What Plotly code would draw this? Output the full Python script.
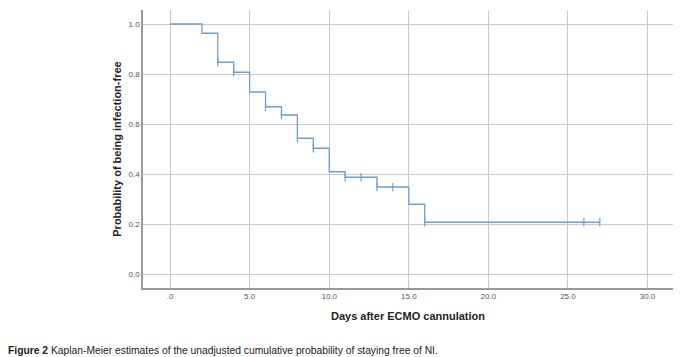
import plotly.graph_objects as go

# Kaplan-Meier step data
step_times = [0, 2, 3, 4, 5, 6, 7, 8, 9, 10, 11, 13, 15, 16, 27]
step_surv = [1.0, 0.963, 0.847, 0.807, 0.728, 0.669, 0.636, 0.543, 0.503, 0.409, 0.387, 0.348, 0.279, 0.207, 0.207]
censor_times = [3, 4, 6, 7, 8, 9, 11, 12, 13, 14, 16, 26, 27]

x_ticks = [0, 5, 10, 15, 20, 25, 30]
x_tick_labels = [".0", "5.0", "10.0", "15.0", "20.0", "25.0", "30.0"]
y_ticks = [0.0, 0.2, 0.4, 0.6, 0.8, 1.0]
y_tick_labels = ["0.0", "0.2", "0.4", "0.6", "0.8", "1.0"]


def surv_at(t):
    val = step_surv[0]
    for tt, s in zip(step_times, step_surv):
        if tt <= t:
            val = s
    return val


censor_surv = [surv_at(t) for t in censor_times]

LINE = "#6e9fd4"

fig = go.Figure()
fig.add_trace(go.Scatter(x=step_times, y=step_surv, mode="lines",
                         line=dict(shape="hv", color=LINE, width=1.3),
                         showlegend=False, hoverinfo="skip"))
fig.add_trace(go.Scatter(x=censor_times, y=censor_surv, mode="markers",
                         marker=dict(symbol="line-ns", size=6,
                                     line=dict(color=LINE, width=1.2)),
                         showlegend=False))

fig.update_layout(
    width=693, height=357,
    margin=dict(l=143, r=20, t=10, b=69),
    paper_bgcolor="white", plot_bgcolor="white",
    font=dict(family="Liberation Sans, Arial, sans-serif", color="#444"),
    xaxis=dict(range=[-1.7, 31.6], tickvals=x_ticks, ticktext=x_tick_labels,
               showgrid=True, gridcolor="#c9c9c9", gridwidth=1.2,
               showline=True, linecolor="#999", linewidth=1.6,
               zeroline=False, ticks="", tickfont=dict(size=8, color="#555"),
               title=dict(text="<b>Days after ECMO cannulation</b>",
                          font=dict(size=11, color="#222"), standoff=12)),
    yaxis=dict(range=[-0.056, 1.056], tickvals=y_ticks, ticktext=y_tick_labels,
               showgrid=True, gridcolor="#c9c9c9", gridwidth=1.2,
               showline=True, linecolor="#999", linewidth=1.6,
               zeroline=False, ticks="", tickfont=dict(size=8, color="#555"),
               title=dict(text="<b>Probability of being infection-free</b>",
                          font=dict(size=11, color="#222"), standoff=5)),
    annotations=[dict(
        text="<b>Figure 2</b> Kaplan-Meier estimates of the unadjusted cumulative probability of staying free of NI.",
        xref="paper", yref="paper", x=-137 / 530, y=-62 / 278,
        xanchor="left", yanchor="middle", showarrow=False,
        font=dict(family="Liberation Sans, sans-serif", size=10.3, color="#222"))],
)

fig.write_html("out.html", config={"displayModeBar": False},
               post_script="document.body.style.margin='0';document.body.style.overflow='hidden';")
